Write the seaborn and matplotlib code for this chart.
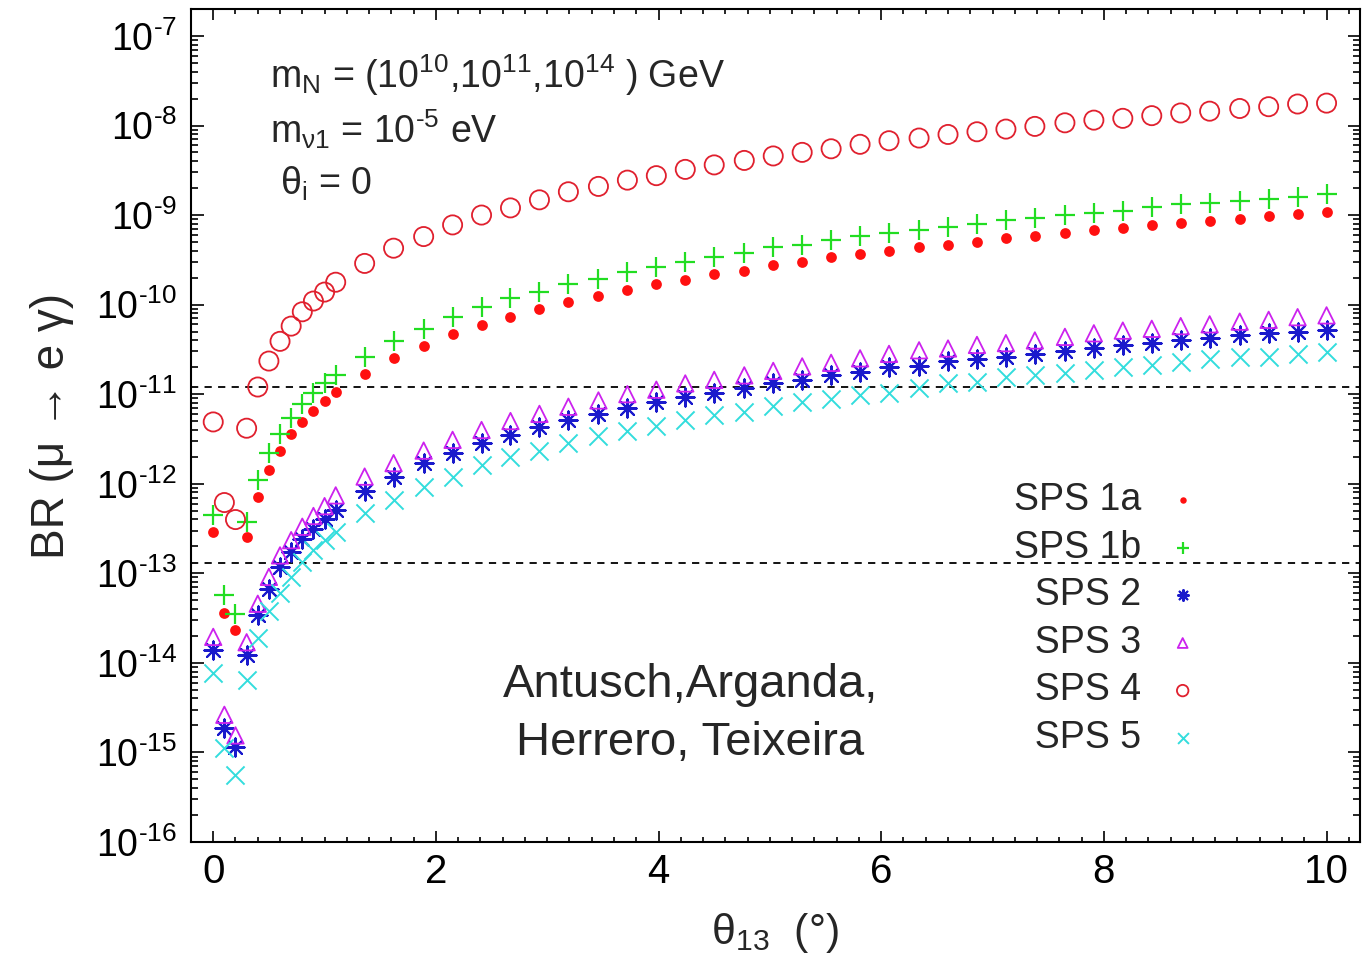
import numpy as np
import matplotlib
matplotlib.use('Agg')
import matplotlib.pyplot as plt
import seaborn as sns
from matplotlib import font_manager
from matplotlib.ticker import LogLocator, NullFormatter, MultipleLocator, FuncFormatter

sns.set_style('ticks')
plt.rcParams['font.family'] = ['Liberation Sans', 'DejaVu Sans']
plt.rcParams['mathtext.fontset'] = 'custom'
plt.rcParams['mathtext.rm'] = 'Liberation Sans'
plt.rcParams['mathtext.it'] = 'Liberation Sans:italic'
plt.rcParams['mathtext.default'] = 'regular'
plt.rcParams['axes.unicode_minus'] = False

# x axis in the original uses a condensed face
names = {f.name for f in font_manager.fontManager.ttflist}
xfont = 'Liberation Sans Narrow' if 'Liberation Sans Narrow' in names else 'Liberation Sans'

# ----------------------------
# Data (log10 of BR)
# ----------------------------
theta13 = [0.0, 0.1, 0.2, 0.3, 0.4, 0.5, 0.6, 0.7, 0.8, 0.9, 1.0, 1.1,
           1.36, 1.62, 1.89, 2.15, 2.41, 2.67, 2.93, 3.19, 3.46, 3.72,
           3.98, 4.24, 4.50, 4.77, 5.03, 5.29, 5.55, 5.81, 6.07, 6.34,
           6.60, 6.86, 7.12, 7.38, 7.65, 7.91, 8.17, 8.43, 8.69, 8.95,
           9.22, 9.48, 9.74, 10.0]

log_sps1a = [-12.54, -13.44, -13.63, -12.60, -12.15, -11.85, -11.63, -11.45, -11.31, -11.19, -11.08, -10.98,
             -10.77, -10.60, -10.46, -10.33, -10.23, -10.14, -10.05, -9.97, -9.90, -9.84,
             -9.77, -9.72, -9.66, -9.62, -9.56, -9.52, -9.47,
             -9.44, -9.40, -9.36, -9.33, -9.30, -9.26, -9.23, -9.20, -9.17, -9.14,
             -9.11, -9.09, -9.07, -9.04, -9.01, -8.99, -8.97]
log_sps1b = [-12.35, -13.24, -13.45, -12.43, -11.96, -11.66, -11.44, -11.27, -11.11, -10.99, -10.88, -10.79,
             -10.58, -10.41, -10.27, -10.14, -10.03, -9.93, -9.86, -9.77, -9.71, -9.64,
             -9.58, -9.52, -9.47, -9.42, -9.36, -9.33, -9.28,
             -9.23, -9.20, -9.17, -9.13, -9.10, -9.06, -9.03, -9.00, -8.98, -8.95,
             -8.91, -8.88, -8.87, -8.84, -8.82, -8.80, -8.77]
log_sps2 = [-13.86, -14.73, -14.94, -13.91, -13.47, -13.17, -12.93, -12.76, -12.62, -12.50, -12.39, -12.29,
            -12.08, -11.92, -11.77, -11.66, -11.55, -11.46, -11.37, -11.29, -11.22, -11.15,
            -11.09, -11.03, -10.99, -10.93, -10.88, -10.84, -10.79,
            -10.75, -10.70, -10.68, -10.63, -10.61, -10.58, -10.55, -10.52, -10.48, -10.45,
            -10.43, -10.39, -10.37, -10.34, -10.32, -10.31, -10.28]
log_sps3 = [-13.71, -14.58, -14.81, -13.77, -13.34, -13.04, -12.80, -12.63, -12.48, -12.36, -12.25, -12.13,
            -11.92, -11.77, -11.63, -11.51, -11.40, -11.30, -11.22, -11.14, -11.07, -11.00,
            -10.95, -10.88, -10.84, -10.79, -10.74, -10.69, -10.65,
            -10.60, -10.55, -10.51, -10.49, -10.45, -10.43, -10.40, -10.36, -10.32, -10.29,
            -10.27, -10.24, -10.22, -10.19, -10.17, -10.14, -10.12]
log_sps4 = [-11.31, -12.21, -12.40, -11.38, -10.92, -10.63, -10.41, -10.24, -10.08, -9.96, -9.86, -9.75,
            -9.54, -9.37, -9.24, -9.11, -9.00, -8.92, -8.83, -8.74, -8.68, -8.61,
            -8.56, -8.49, -8.44, -8.39, -8.34, -8.30, -8.26,
            -8.21, -8.17, -8.14, -8.10, -8.07, -8.04, -8.01, -7.97, -7.94, -7.92,
            -7.89, -7.86, -7.84, -7.81, -7.79, -7.76, -7.75]
log_sps5 = [-14.11, -14.95, -15.25, -14.19, -13.72, -13.42, -13.22, -13.04, -12.87, -12.74, -12.63, -12.54,
            -12.33, -12.18, -12.04, -11.92, -11.79, -11.70, -11.63, -11.55, -11.47, -11.41,
            -11.35, -11.29, -11.23, -11.20, -11.13, -11.09, -11.05,
            -11.01, -10.99, -10.93, -10.88, -10.86, -10.81, -10.79, -10.76, -10.73, -10.70,
            -10.67, -10.64, -10.61, -10.58, -10.58, -10.55, -10.53]

bounds = [1.2e-11, 1.3e-13]

# label padding mimics the right-justified gnuplot key
series = [
    ('SPS 1a', log_sps1a, dict(marker='o', s=60, color='#ff1010', linewidth=0)),
    ('SPS 1b', log_sps1b, dict(marker='+', s=190, color='#22dd22', linewidth=1.6)),
    ('  SPS 2', log_sps2, dict(marker=(8, 2, 0), s=170, color='#1a1acc', linewidth=1.5)),
    ('  SPS 3', log_sps3, dict(marker='^', s=140, facecolor='none', edgecolor='#cc22ee', linewidth=1.3)),
    ('  SPS 4', log_sps4, dict(marker='o', s=190, facecolor='none', edgecolor='#e0202e', linewidth=1.3)),
    ('  SPS 5', log_sps5, dict(marker='x', s=170, color='#33dddd', linewidth=1.4)),
]


def pow10(v, pos):
    # short hyphen in the exponent, as in the original
    e = int(round(np.log10(v)))
    sign = r'\text{-}' if e < 0 else ''
    return r'$10^{%s%d}$' % (sign, abs(e))


# ----------------------------
# Plot
# ----------------------------
fig = plt.figure(figsize=(13.65, 9.66), dpi=100)
ax = fig.add_axes([0.1399, 0.1284, 0.8564, 0.8623])

for label, vals, kw in series:
    sns.scatterplot(x=theta13, y=10.0 ** np.array(vals), ax=ax, label=label, zorder=3, **kw)

for b in bounds:
    ax.axhline(b, color='black', lw=1.3, ls=(0, (4, 3.5)), zorder=2)

ax.set_yscale('log')
ax.set_xlim(-0.2, 10.3)
ax.set_ylim(1e-16, 2e-7)
ax.yaxis.set_major_locator(LogLocator(base=10, numticks=20))
ax.yaxis.set_major_formatter(FuncFormatter(pow10))
ax.yaxis.set_minor_locator(LogLocator(base=10, subs=np.arange(2, 10), numticks=100))
ax.yaxis.set_minor_formatter(NullFormatter())
ax.xaxis.set_major_locator(MultipleLocator(2))
ax.xaxis.set_minor_locator(MultipleLocator(0.2))

for s in ax.spines.values():
    s.set_linewidth(1.5)
    s.set_color('black')
ax.tick_params(which='both', direction='in', top=True, right=True, colors='black', width=1.2)
ax.tick_params(axis='y', which='major', length=9, labelsize=27, pad=10)
ax.tick_params(axis='y', which='minor', length=5)
ax.tick_params(axis='x', which='major', length=8, labelsize=29, pad=8)
ax.tick_params(axis='x', which='minor', length=3.5)
for t in ax.get_xticklabels():
    t.set_family(xfont)

ax.set_ylabel('BR (μ → e γ)', fontsize=33, labelpad=16)
ax.set_xlabel(r'$θ_{13}$  (°)', fontsize=31, labelpad=14, family=xfont)

ax.text(0.068, 0.905, r'm$_{N}$ = (10$^{10}$,10$^{11}$,10$^{14}$ ) GeV', transform=ax.transAxes,
        fontsize=27, va='baseline')
ax.text(0.068, 0.839, r'm$_{ν1}$ = 10$^{\text{-}5}$ eV', transform=ax.transAxes,
        fontsize=27, va='baseline')
ax.text(0.076, 0.777, r'$θ_{i}$ = 0', transform=ax.transAxes,
        fontsize=27, va='baseline')
ax.text(0.427, 0.174, 'Antusch,Arganda,', transform=ax.transAxes,
        fontsize=34, ha='center', va='baseline')
ax.text(0.427, 0.1045, 'Herrero, Teixeira', transform=ax.transAxes,
        fontsize=34, ha='center', va='baseline')

ax.legend(loc='upper right', bbox_to_anchor=(0.8644, 0.4322), frameon=False,
          markerfirst=False, fontsize=27, markerscale=0.6, handlelength=1.0,
          handletextpad=0.6, labelspacing=0.31, borderpad=0, borderaxespad=0)

fig.savefig('out.png', dpi=100)
